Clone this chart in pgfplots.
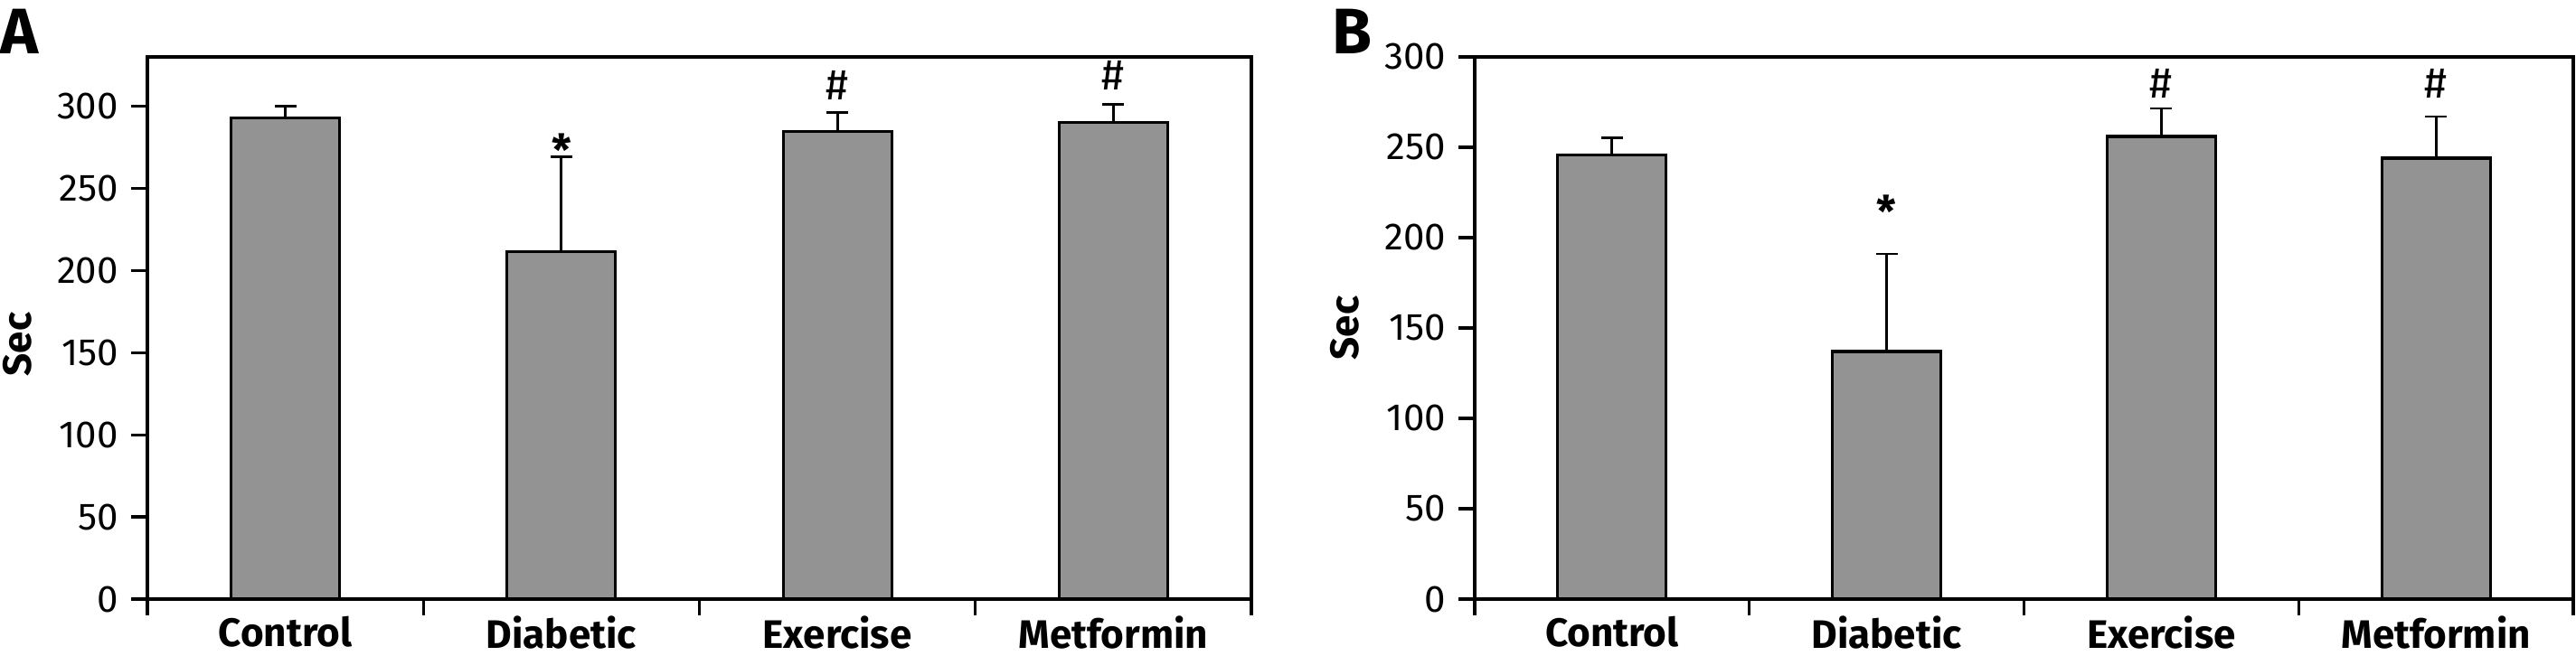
\documentclass[border=0pt]{standalone}
\usepackage{pgfplots}
\pgfplotsset{compat=1.18}
\usepackage{fontspec}
\setmainfont{Fira Sans}

\definecolor{barfill}{RGB}{147,147,147}

\pgfplotsset{
  panel/.style={
    scale only axis,
    height=150pt,
    ymin=0,
    xmin=0, xmax=4,
    xtick={0,1,2,3,4},
    xticklabels={Control,Diabetic,Exercise,Metformin},
    x tick label as interval,
    ytick={0,50,...,300},
    xtick pos=bottom, ytick pos=left,
    tick align=outside,
    major tick length=4.5pt,
    axis line style={line width=0.8pt},
    every tick/.style={black, line width=0.8pt},
    /pgf/number format/assume math mode=true,
    yticklabel style={font=\fontsize{10.5}{12}\selectfont},
    xticklabel style={font=\fontsize{11}{13}\bfseries\selectfont,
      inner sep=0pt, text depth=0pt, yshift=0pt},
    ylabel={Sec},
    every axis y label/.style={at={(rel axis cs:0,0.5)}, xshift=-40.25pt, rotate=90,
      anchor=north, inner sep=0pt, font=\fontsize{11}{13}\bfseries\selectfont},
    clip=false,
  },
  bars/.style={
    ybar, bar width=30pt, fill=barfill, draw=black, line width=0.8pt,
    error bars/.cd, y dir=plus, y explicit,
    error bar style={black, line width=0.7pt},
    error mark options={black, line width=0.7pt, mark size=3pt, rotate=90},
  },
  marks/.style={
    only marks, mark=none,
    nodes near coords, point meta=explicit symbolic,
    every node near coord/.style={anchor=north, inner sep=0pt,
      font=\fontsize{12}{14}\selectfont},
  },
}

\begin{document}
\begin{tikzpicture}
\useasboundingbox (0,0) rectangle (712.25pt,181.5pt);

\begin{axis}[panel, width=305.25pt, ymax=330,
  at={(40.75pt,15.75pt)}, anchor=south west,
  every axis y label/.append style={at={(rel axis cs:0,0.47)}}]
\addplot[bars] coordinates {
  (0.5,293)   +- (0,7)
  (1.5,211.5) +- (0,57.5)
  (2.5,284.5) +- (0,11.5)
  (3.5,290)   +- (0,11)
};
\addplot[marks] coordinates {
  (1.5,284)[\bfseries *]
  (2.5,322)[\#]
  (3.5,328)[\#]
};
\end{axis}

\begin{axis}[panel, width=303.75pt, ymax=300,
  at={(407.75pt,15.75pt)}, anchor=south west]
\addplot[bars] coordinates {
  (0.5,245.8) +- (0,9.3)
  (1.5,137)   +- (0,54)
  (2.5,256)   +- (0,15.5)
  (3.5,244)   +- (0,23)
};
\addplot[marks] coordinates {
  (1.5,224)[\bfseries *]
  (2.5,293.5)[\#]
  (3.5,293.5)[\#]
};
\end{axis}

\node[anchor=north west, inner sep=0pt, font=\fontsize{17.8}{20}\bfseries\selectfont]
  at (0pt,179.25pt) {A};
\node[anchor=north west, inner sep=0pt, font=\fontsize{17.8}{20}\bfseries\selectfont]
  at (368.25pt,179.25pt) {B};
\end{tikzpicture}
\end{document}
